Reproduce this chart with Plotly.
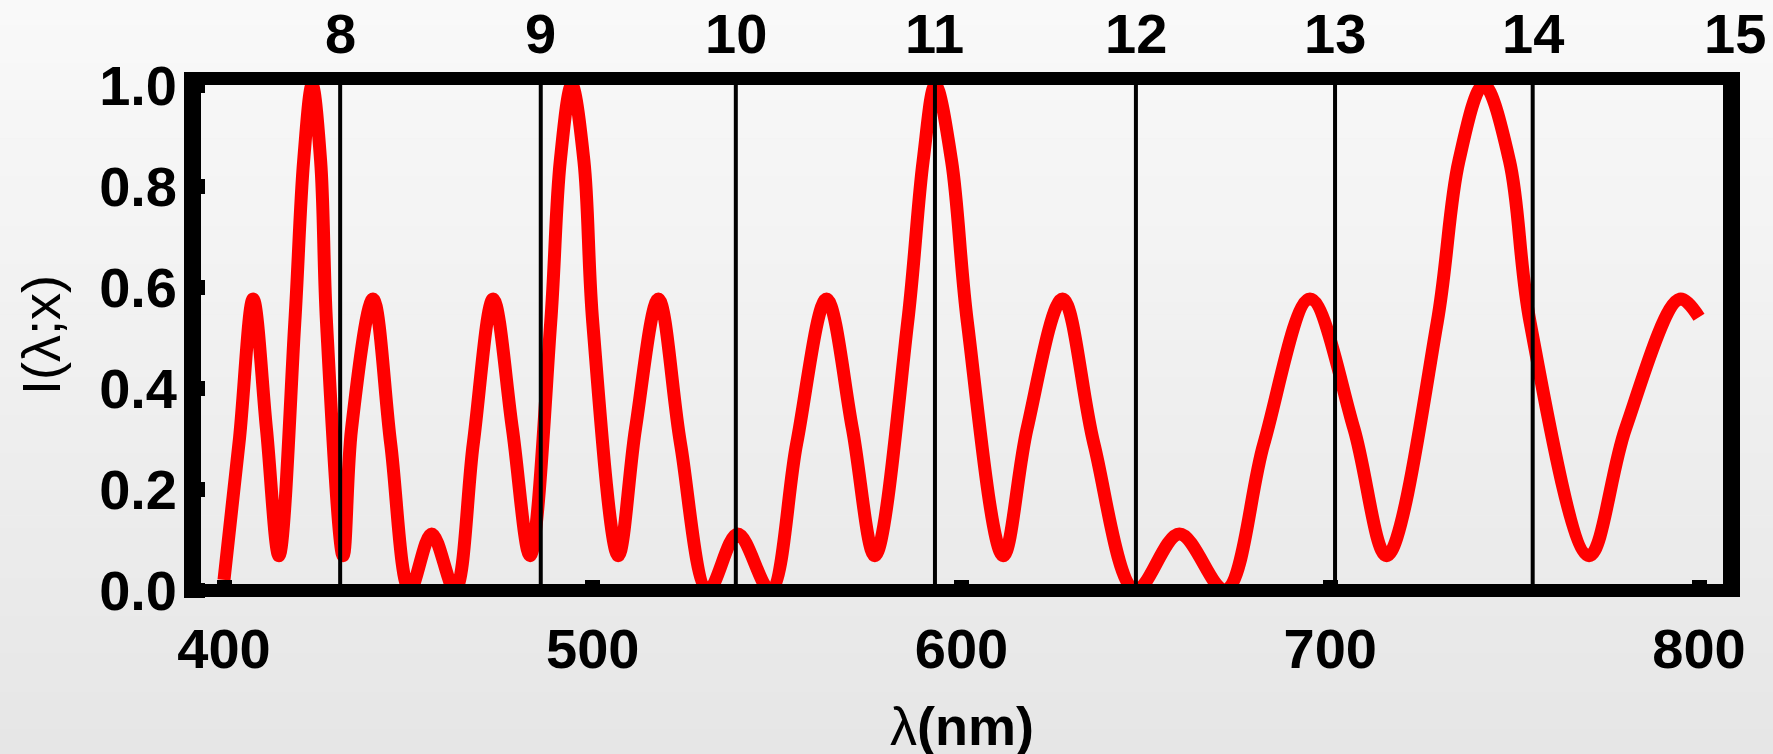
import plotly.graph_objects as go

# ---------------- data ----------------
wavelength_nm = [400, 404.2, 407.9, 411.5, 414.9, 419.2, 421.6, 423.9, 426.2, 427.8,
                 432.3, 434.6, 440.4, 445.2, 450.4, 456.3, 462.6, 467.6, 473.0, 478.2,
                 483.0, 488.6, 491.2, 494.3, 497.6, 500.0, 506.9, 511.6, 517.8, 523.8,
                 531.3, 539.3, 548.1, 555.3, 563.4, 570.4, 576.5, 585.4, 589.6, 592.9,
                 597.3, 601.6, 611.3, 617.8, 627.4, 635.9, 647.2, 659.1, 671.5, 682.0,
                 694.5, 706.4, 715.3, 729.0, 734.9, 741.6, 748.6, 754.2, 770.2, 780.1,
                 794.8, 800]
intensity = [0.02, 0.30, 0.576, 0.32, 0.068, 0.53, 0.85, 1.0, 0.85, 0.53,
             0.068, 0.32, 0.576, 0.29, 0.0, 0.111, 0.0, 0.29, 0.576, 0.32,
             0.068, 0.53, 0.85, 1.0, 0.85, 0.53, 0.068, 0.32, 0.576, 0.29,
             0.0, 0.111, 0.0, 0.29, 0.576, 0.32, 0.068, 0.53, 0.85, 1.0,
             0.85, 0.53, 0.068, 0.32, 0.576, 0.29, 0.0, 0.111, 0.0, 0.29,
             0.576, 0.32, 0.068, 0.53, 0.85, 1.0, 0.85, 0.53, 0.068, 0.32,
             0.576, 0.54]

order_labels = ["8", "9", "10", "11", "12", "13", "14", "15"]
order_lambda = [431.5, 485.9, 538.8, 592.8, 647.3, 701.3, 754.9, 809.8]

x_ticks = [400, 500, 600, 700, 800]
y_ticks = [0.0, 0.2, 0.4, 0.6, 0.8, 1.0]
y_ticktext = ["0.0", "0.2", "0.4", "0.6", "0.8", "1.0"]

# ---------------- layout geometry ----------------
W, H = 1773, 754
L, R, T, B = 184, 33, 72, 157
PW, PH = W - L - R, H - T - B
FONT = "Liberation Sans"

fig = go.Figure()
fig.add_trace(go.Scatter(
    x=wavelength_nm, y=intensity, mode="lines",
    line=dict(color="#ff0000", width=13, shape="spline", smoothing=1.0),
    hoverinfo="skip", showlegend=False))

shapes = []
# background gradient
n_bands = 60
for i in range(n_bands):
    t = i / (n_bands - 1)
    c = int(round(249 + (230 - 249) * t))
    py0 = H * i / n_bands
    py1 = H * (i + 1) / n_bands + 0.6
    shapes.append(dict(type="rect", xref="paper", yref="paper",
                       x0=-L / PW, x1=(W - L) / PW,
                       y0=(T + PH - py1) / PH, y1=(T + PH - py0) / PH,
                       fillcolor=f"rgb({c},{c},{c})", line=dict(width=0),
                       layer="below"))

# vertical order lines
fr_lr, fr_tb = 17, 13
for lam in order_lambda:
    shapes.append(dict(type="line", xref="x", yref="paper", x0=lam, x1=lam,
                       y0=fr_tb / PH, y1=1 - fr_tb / PH,
                       line=dict(color="black", width=4), layer="above"))

# thick frame
frame = [(0, fr_lr / PW, 0, 1), (1 - fr_lr / PW, 1, 0, 1),
         (0, 1, 0, fr_tb / PH), (0, 1, 1 - fr_tb / PH, 1)]
for x0, x1, y0, y1 in frame:
    shapes.append(dict(type="rect", xref="paper", yref="paper",
                       x0=x0, x1=x1, y0=y0, y1=y1, fillcolor="black",
                       line=dict(width=0), layer="above"))

annotations = []
for lab, lam in zip(order_labels, order_lambda):
    annotations.append(dict(text=lab, x=lam, xref="x", y=(T + PH - 33) / PH,
                            yref="paper", showarrow=False, xanchor="center",
                            yanchor="middle",
                            font=dict(family=FONT, size=56, color="black",
                                      weight="bold")))
annotations.append(dict(text="λ<b>(nm)</b>", x=0.5, xref="paper",
                        y=(T + PH - 726) / PH, yref="paper", showarrow=False,
                        xanchor="center", yanchor="middle",
                        font=dict(family=FONT, size=54, color="black")))
annotations.append(dict(text="I(λ;x)", x=(41 - L) / PW, xref="paper",
                        y=(T + PH - 335) / PH, yref="paper", showarrow=False,
                        xanchor="center", yanchor="middle", textangle=-90,
                        font=dict(family=FONT, size=54, color="black")))

px_per_nm = 3.6875
x0_nm = 400 - (224 - L) / px_per_nm
x1_nm = 800 + (L + PW - 1699) / px_per_nm
y_unit = 505.0
y_lo = -(T + PH - 590) / y_unit
y_hi = (590 - T) / y_unit

fig.update_layout(
    width=W, height=H, margin=dict(l=L, r=R, t=T, b=B, pad=0),
    paper_bgcolor="#eeeeee", plot_bgcolor="rgba(0,0,0,0)",
    shapes=shapes, annotations=annotations, showlegend=False,
    xaxis=dict(range=[x0_nm, x1_nm], tickvals=x_ticks,
               ticktext=[str(v) for v in x_ticks], ticks="inside",
               ticklen=17, tickwidth=15, tickcolor="black", showgrid=False,
               zeroline=False, showline=False, ticklabelstandoff=14,
               tickfont=dict(family=FONT, size=56, color="black", weight="bold")),
    yaxis=dict(range=[y_lo, y_hi], tickvals=y_ticks, ticktext=y_ticktext,
               ticks="inside", ticklen=21, tickwidth=15, tickcolor="black",
               showgrid=False, zeroline=False, showline=False,
               ticklabelstandoff=6,
               tickfont=dict(family=FONT, size=56, color="black", weight="bold")),
)

fig.write_html("out.html")
